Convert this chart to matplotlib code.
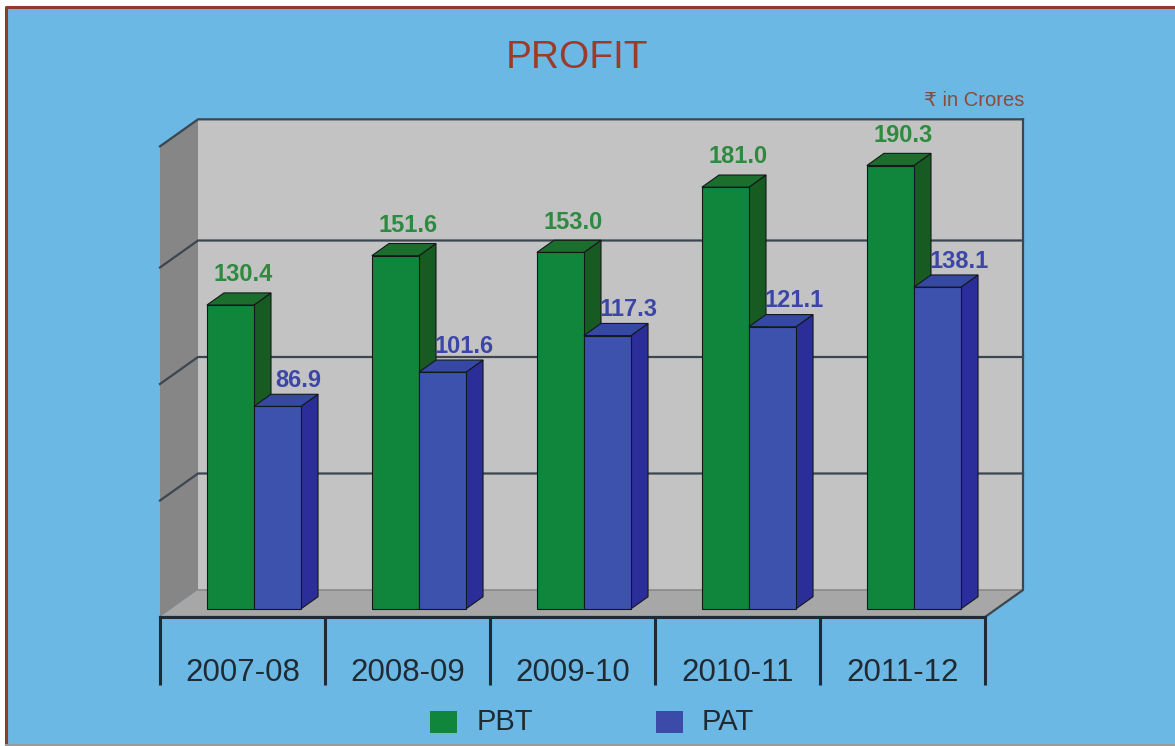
import matplotlib
matplotlib.use("Agg")
import matplotlib.pyplot as plt
import matplotlib.transforms as mtransforms
from matplotlib.patches import Polygon, Rectangle

plt.rcParams['font.family'] = ['Liberation Sans', 'DejaVu Sans']

# data
years = ["2007-08", "2008-09", "2009-10", "2010-11", "2011-12"]
pbt = [130.4, 151.6, 153.0, 181.0, 190.3]
pat = [86.9, 101.6, 117.3, 121.1, 138.1]
grid_vals = [50, 100, 150]
wall_top = 202

W, H = 1175, 746
X0, CAT_W = 160, 165      # pixel position of first category, pixels per category
Y0, PX_PER_UNIT = 617, 2.33
DEPTH_PX = (38, 27)       # oblique offset of the back wall in pixels

fig = plt.figure(figsize=(W / 100, H / 100), dpi=100)
fig.patch.set_facecolor('white')
ax = fig.add_axes([0, 0, 1, 1])
ax.set_xlim(-X0 / CAT_W, (W - X0) / CAT_W)
ax.set_ylim((Y0 - H) / PX_PER_UNIT, Y0 / PX_PER_UNIT)
ax.axis('off')

# pixel coords (origin top-left) for decorations
pix = mtransforms.Affine2D().scale(1 / W, -1 / H).translate(0, 1) + fig.transFigure

DX = DEPTH_PX[0] / CAT_W
DY = DEPTH_PX[1] / PX_PER_UNIT


def proj(x, y, z):
    return (x + z * DX, y + z * DY)


# background panel + frame
fig.patches.append(Rectangle((6, 7), W, 737, transform=pix, facecolor='#6cb8e4',
                             edgecolor='none', zorder=-10))
fig.lines.append(plt.Line2D([6, 6, W], [744, 7, 7], transform=pix, color='#8e3b2b', lw=2.2))
fig.lines.append(plt.Line2D([6, W], [744.5, 744.5], transform=pix, color='#9a9a9a', lw=1.5))

n = len(years)
edge = '#3b4650'

# walls and floor
ax.add_patch(Polygon([proj(0, 0, 1), proj(n, 0, 1), proj(n, wall_top, 1), proj(0, wall_top, 1)],
                     facecolor='#c3c3c3', edgecolor='none', zorder=1))
ax.add_patch(Polygon([proj(0, 0, 0), proj(0, 0, 1), proj(0, wall_top, 1), proj(0, wall_top, 0)],
                     facecolor='#868686', edgecolor='none', zorder=1))
ax.add_patch(Polygon([proj(0, 0, 0), proj(n, 0, 0), proj(n, 0, 1), proj(0, 0, 1)],
                     facecolor='#a7a7a7', edgecolor='none', zorder=1))

for g in grid_vals + [wall_top]:
    xs, ys = zip(proj(0, g, 0), proj(0, g, 1), proj(n, g, 1))
    ax.plot(xs, ys, color=edge, lw=1.6, zorder=2)
xs, ys = zip(proj(0, 0, 1), proj(n, 0, 1))
ax.plot(xs, ys, color='#8a8a8a', lw=1.2, zorder=2)
xs, ys = zip(proj(n, wall_top, 1), proj(n, 0, 1), proj(n, 0, 0), proj(0, 0, 0))
ax.plot(xs, ys, color=edge, lw=1.6, zorder=2)
xs, ys = zip(proj(0, 0, 0), proj(n, 0, 0))
ax.plot(xs, ys, color='#1f2a33', lw=2.2, zorder=6)

# category separators and labels
tick_len = 29
for i in range(n + 1):
    ax.plot([i, i], [0, -tick_len], color='#1f2a33', lw=2.2, zorder=6, solid_capstyle='butt')
for i, yr in enumerate(years):
    ax.text(i + 0.5, -24, yr, ha='center', va='center', fontsize=22.5, color='#1f2a33')


def bar3d(x0, w, h, z0, z1, cfront, ctop, cside, zo):
    front = [proj(x0, 0, z0), proj(x0 + w, 0, z0), proj(x0 + w, h, z0), proj(x0, h, z0)]
    top = [proj(x0, h, z0), proj(x0 + w, h, z0), proj(x0 + w, h, z1), proj(x0, h, z1)]
    side = [proj(x0 + w, 0, z0), proj(x0 + w, 0, z1), proj(x0 + w, h, z1), proj(x0 + w, h, z0)]
    for pts, c in ((side, cside), (top, ctop), (front, cfront)):
        ax.add_patch(Polygon(pts, facecolor=c, edgecolor='#14181c', lw=0.8, zorder=zo))


bw, z0, z1 = 0.285, 0.3, 0.75
for i in range(n):
    xg = i + 0.215
    bar3d(xg, bw, pbt[i], z0, z1, '#10863d', '#1c6e2d', '#175a22', 3 + 2 * i)
    bar3d(xg + bw, bw, pat[i], z0, z1, '#3c52ad', '#3548a4', '#2b2e98', 4 + 2 * i)
    ax.annotate(f"{pbt[i]:.1f}", proj(xg + bw / 2, pbt[i], z1), xytext=(-3, 13),
                textcoords='offset points', ha='center', va='center', fontsize=17,
                fontweight='bold', color='#2d8a3e', zorder=20)
    ax.annotate(f"{pat[i]:.1f}", proj(xg + 1.5 * bw, pat[i], z1), xytext=(3, 10),
                textcoords='offset points', ha='center', va='center', fontsize=17,
                fontweight='bold', color='#3c46a8', zorder=20)

# title and unit note
fig.text(577, 58, "PROFIT", transform=pix, ha='center', va='center', fontsize=28,
         color='#9b3b28')
fig.text(1024, 101, "₹ in Crores", transform=pix, ha='right', va='center', fontsize=14.5,
         color='#8c4a3a')

# legend
for x_sq, x_txt, lab, col in ((430, 477, "PBT", '#10863d'), (656, 702, "PAT", '#3c4aa8')):
    fig.patches.append(Rectangle((x_sq, 711), 27, 22, transform=pix, facecolor=col,
                                 edgecolor='none'))
    fig.text(x_txt, 722, lab, transform=pix, ha='left', va='center', fontsize=21,
             color='#1f2a33')

fig.savefig("out.png", dpi=100, facecolor=fig.get_facecolor())
